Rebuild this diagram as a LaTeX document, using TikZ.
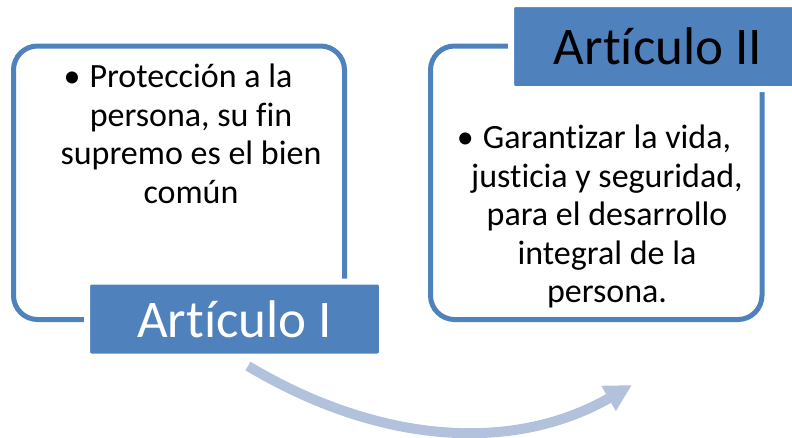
\documentclass[tikz,border=0pt]{standalone}
\usepackage{fontspec}
\setmainfont{Carlito}[Ligatures={NoCommon,NoContextual}]
\usetikzlibrary{arrows.meta}
\definecolor{frameblue}{RGB}{79,129,189}
\definecolor{arrowblue}{RGB}{178,193,220}
\begin{document}
\begin{tikzpicture}[x=1pt,y=-1pt,
  frame/.style={draw=frameblue, line width=5pt, rounded corners=24pt, inner sep=0pt},
  artlabel/.style={fill=frameblue, draw=white, line width=6pt, rounded corners=4pt, inner sep=0pt, font=\fontsize{53}{60}\selectfont},
  body/.style={align=center, font=\fontsize{34}{38.5}\selectfont, inner sep=0pt, anchor=north},
  flow/.style={draw=arrowblue, line width=10pt, -{Triangle[length=27pt,width=27pt]}}]
\useasboundingbox (0,0) rectangle (792,437);
\node[frame, minimum width=331pt, minimum height=273.5pt] (f1) at (179,182.75) {};
\node[frame, minimum width=331.5pt, minimum height=273.5pt] (f2) at (596.25,182.75) {};
\node[artlabel, text=white, minimum width=295pt, minimum height=75pt] (l1) at (234.5,319) {Artículo I};
\node[artlabel, text=black, minimum width=294pt, minimum height=85pt] (l2) at (658,46.5) {Artículo II};
\node[body] (t1) at (191,64) {\llap{•\hspace{9pt}}Protección a la\\persona, su fin\\supremo es el bien\\común};
\node[body] (t2) at (607,125) {\llap{•\hspace{9pt}}Garantizar la vida,\\justicia y seguridad,\\para el desarrollo\\integral de la\\persona.};
\coordinate (as) at (248,366);
\coordinate (ae) at (632,385);
\draw[flow] (as) .. controls (375,442) and (510,455) .. (ae);
\end{tikzpicture}
\end{document}
